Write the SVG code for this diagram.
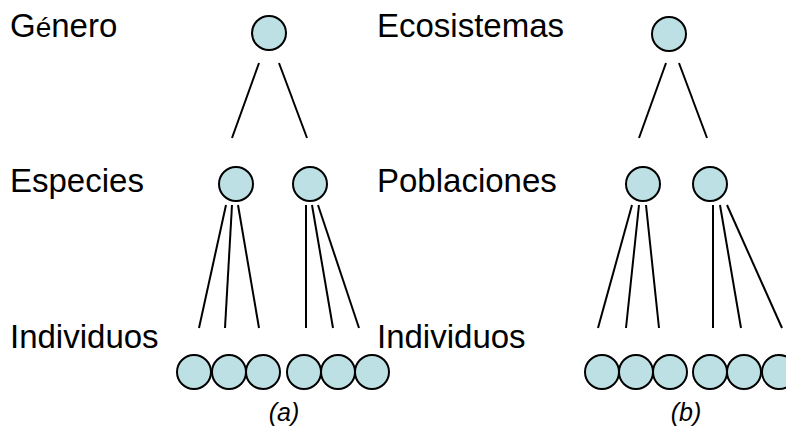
<svg xmlns="http://www.w3.org/2000/svg" width="786" height="430" viewBox="0 0 786 430">
<style>
.n{fill:#bce0e3;stroke:#000;stroke-width:2}
.c line{stroke:#000;stroke-width:2}
.t{font-family:"Liberation Sans",Arial,sans-serif;font-size:33px;fill:#000}
.cap{font-family:"Liberation Sans",Arial,sans-serif;font-size:25px;font-style:italic;fill:#000}
</style>
<rect width="786" height="430" fill="#fff"/>
<g id="labels">
<text class="t" x="10" y="37">G<tspan font-size="28">é</tspan>nero</text>
<text class="t" x="10" y="192">Especies</text>
<text class="t" x="10" y="348">Individuos</text>
<text class="t" x="377" y="37">Ecosistemas</text>
<text class="t" x="377" y="192">Poblaciones</text>
<text class="t" x="377" y="348">Individuos</text>
<text class="cap" x="284" y="421" text-anchor="middle">(a)</text>
<text class="cap" x="686" y="421" text-anchor="middle">(b)</text>
</g>
<g id="connectors" class="c">
<line x1="259" y1="63" x2="232" y2="138"/>
<line x1="279" y1="63" x2="307" y2="138"/>
<line x1="226" y1="205" x2="199" y2="328"/>
<line x1="232" y1="205" x2="225" y2="328"/>
<line x1="238" y1="205" x2="259" y2="328"/>
<line x1="306" y1="205" x2="306" y2="328"/>
<line x1="312" y1="205" x2="333" y2="328"/>
<line x1="318" y1="205" x2="359" y2="328"/>
<line x1="666" y1="63" x2="639" y2="138"/>
<line x1="679" y1="63" x2="707" y2="138"/>
<line x1="632" y1="205" x2="598" y2="328"/>
<line x1="639" y1="205" x2="626" y2="328"/>
<line x1="646" y1="205" x2="659" y2="328"/>
<line x1="713" y1="205" x2="713" y2="328"/>
<line x1="720" y1="205" x2="741" y2="328"/>
<line x1="727" y1="205" x2="782" y2="328"/>
</g>
<g id="genero"><circle class="n" cx="269" cy="33" r="17"/></g>
<g id="especie1"><circle class="n" cx="236" cy="184" r="17"/></g>
<g id="especie2"><circle class="n" cx="310" cy="184" r="17"/></g>
<g id="ind-a1"><circle class="n" cx="194" cy="372" r="17"/></g>
<g id="ind-a2"><circle class="n" cx="229" cy="372" r="17"/></g>
<g id="ind-a3"><circle class="n" cx="263" cy="372" r="17"/></g>
<g id="ind-a4"><circle class="n" cx="304" cy="372" r="17"/></g>
<g id="ind-a5"><circle class="n" cx="338" cy="372" r="17"/></g>
<g id="ind-a6"><circle class="n" cx="372" cy="372" r="17"/></g>
<g id="ecosistema"><circle class="n" cx="669" cy="34" r="17"/></g>
<g id="poblacion1"><circle class="n" cx="643" cy="184" r="17"/></g>
<g id="poblacion2"><circle class="n" cx="710" cy="184" r="17"/></g>
<g id="ind-b1"><circle class="n" cx="602" cy="372" r="17"/></g>
<g id="ind-b2"><circle class="n" cx="636" cy="372" r="17"/></g>
<g id="ind-b3"><circle class="n" cx="670" cy="372" r="17"/></g>
<g id="ind-b4"><circle class="n" cx="710" cy="372" r="17"/></g>
<g id="ind-b5"><circle class="n" cx="744" cy="372" r="17"/></g>
<g id="ind-b6"><circle class="n" cx="779" cy="372" r="17"/></g>
</svg>
